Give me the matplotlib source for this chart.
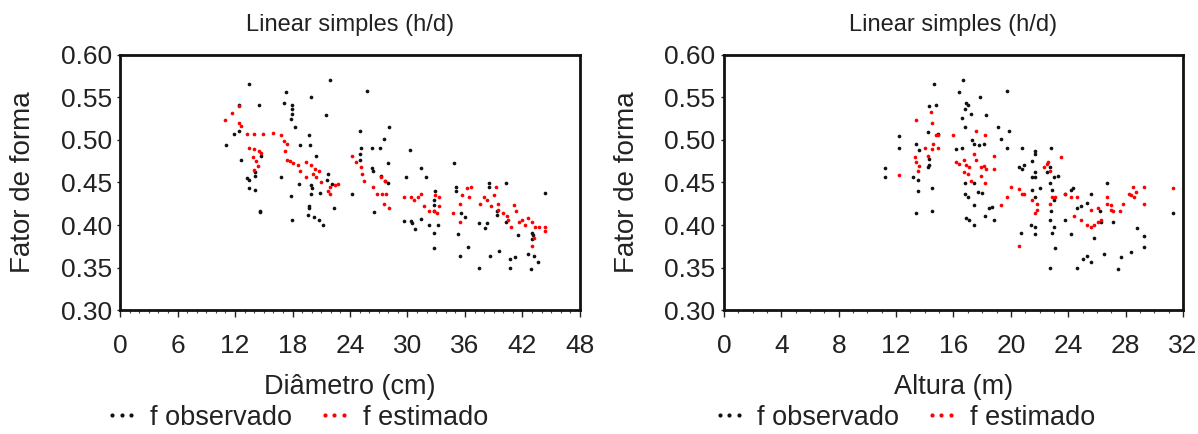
import matplotlib
matplotlib.use("Agg")
import matplotlib.pyplot as plt
from matplotlib.ticker import MultipleLocator, FormatStrFormatter
from matplotlib.lines import Line2D

plt.rcParams['font.family'] = ['Liberation Sans', 'DejaVu Sans']

# ---------------- Left panel: Diâmetro (cm) ----------------
d_obs = [13.46, 21.9, 25.8, 17.3, 19.9, 14.5, 12.45, 17.1, 17.9, 17.9, 17.9, 17.8,
         21.5, 28.1, 25.0, 27.6, 18.3, 12.4, 11.9, 11.1, 19.7, 18.8, 19.8, 25.1,
         26.3, 27.1, 30.3, 20.5, 14.7, 12.6, 25.0, 25.0, 28.0, 34.9, 31.4, 26.3,
         26.4, 16.8, 29.8, 31.9, 13.3, 13.5, 14.1, 14.1, 18.7, 27.2, 27.7, 28.0,
         21.7, 22.1, 21.6, 19.9, 20.0, 19.9, 13.5, 14.1, 17.8, 20.9, 24.2, 32.9,
         35.1, 35.1, 38.5, 38.5, 40.3, 44.4, 22.3, 14.6, 14.6, 19.7, 19.7, 26.5,
         32.8, 32.8, 32.8, 35.6, 36.0, 39.3, 39.3, 40.3, 17.9, 19.6, 20.2, 20.8,
         21.2, 29.6, 30.4, 30.5, 30.8, 31.4, 32.2, 33.2, 32.8, 32.8, 35.3, 37.5,
         38.1, 38.3, 41.5, 43.0, 43.0, 43.1, 35.5, 36.3, 38.6, 39.6, 37.5, 40.7,
         41.2, 40.7, 42.6, 43.2, 43.6, 42.9]
f_obs_d = [0.566, 0.571, 0.5575, 0.557, 0.551, 0.541, 0.541, 0.544, 0.541, 0.536, 0.530, 0.525,
           0.529, 0.515, 0.510, 0.5015, 0.515, 0.510, 0.5066, 0.4946, 0.506, 0.494, 0.494, 0.491,
           0.491, 0.491, 0.488, 0.481, 0.481, 0.477, 0.483, 0.476, 0.473, 0.4725, 0.467, 0.467,
           0.464, 0.457, 0.456, 0.457, 0.455, 0.453, 0.458, 0.462, 0.448, 0.458, 0.452, 0.449,
           0.460, 0.448, 0.453, 0.447, 0.443, 0.437, 0.444, 0.441, 0.434, 0.438, 0.436, 0.440,
           0.445, 0.440, 0.449, 0.445, 0.449, 0.438, 0.420, 0.4166, 0.415, 0.4227, 0.420, 0.415,
           0.429, 0.423, 0.417, 0.414, 0.409, 0.416, 0.412, 0.404, 0.406, 0.412, 0.409, 0.406,
           0.400, 0.405, 0.405, 0.402, 0.395, 0.407, 0.400, 0.400, 0.391, 0.373, 0.390, 0.402,
           0.397, 0.402, 0.388, 0.391, 0.384, 0.388, 0.364, 0.374, 0.364, 0.369, 0.350, 0.360,
           0.362, 0.349, 0.366, 0.363, 0.357, 0.348]

d_est = [11.0, 11.7, 12.4, 12.4, 12.6, 13.3, 14.0, 14.9, 13.5, 14.0, 14.5, 14.7,
         13.9, 14.2, 14.4, 14.0, 16.0, 16.8, 17.1, 17.2, 17.4, 17.4, 17.7, 18.1,
         18.6, 18.8, 19.4, 19.9, 20.3, 20.8, 20.1, 19.4, 20.5, 21.0, 21.9, 22.4,
         22.7, 21.7, 21.9, 24.2, 24.6, 25.2, 25.3, 25.5, 26.4, 26.8, 27.3, 27.8,
         27.6, 28.1, 27.2, 27.7, 29.6, 30.4, 30.7, 31.1, 31.4, 31.7, 32.2, 32.8,
         33.1, 33.3, 32.9, 33.3, 34.8, 35.5, 35.7, 36.2, 36.6, 36.4, 35.5, 37.6,
         38.0, 38.3, 38.7, 39.0, 39.2, 39.4, 39.4, 40.0, 40.4, 40.5, 41.1, 41.3,
         40.8, 41.6, 41.9, 42.3, 42.6, 43.0, 43.3, 43.0, 43.2, 43.7, 44.4, 44.4]
f_est_d = [0.523, 0.532, 0.540, 0.520, 0.516, 0.5066, 0.5066, 0.5066, 0.491, 0.489, 0.487, 0.485,
           0.480, 0.475, 0.469, 0.465, 0.508, 0.506, 0.499, 0.487, 0.495, 0.476, 0.475, 0.473,
           0.470, 0.464, 0.474, 0.470, 0.466, 0.464, 0.460, 0.456, 0.456, 0.451, 0.445, 0.447,
           0.448, 0.440, 0.436, 0.481, 0.474, 0.468, 0.460, 0.452, 0.445, 0.437, 0.436, 0.437,
           0.425, 0.420, 0.456, 0.452, 0.433, 0.433, 0.429, 0.433, 0.437, 0.422, 0.417, 0.416,
           0.414, 0.422, 0.435, 0.433, 0.414, 0.425, 0.435, 0.443, 0.445, 0.433, 0.404, 0.425,
           0.433, 0.429, 0.422, 0.435, 0.445, 0.425, 0.418, 0.414, 0.410, 0.406, 0.423, 0.417,
           0.398, 0.404, 0.406, 0.400, 0.408, 0.404, 0.398, 0.375, 0.385, 0.398, 0.398, 0.393]

# ---------------- Right panel: Altura (m) ----------------
h_obs = [14.65, 16.67, 16.37, 19.74, 17.84, 14.3, 14.8, 16.9, 17.0, 16.8, 17.2, 18.3,
         16.6, 16.8, 19.1, 19.3, 19.9, 12.2, 12.2, 13.4, 13.6, 14.2, 14.9, 14.3,
         14.3, 14.2, 16.2, 16.6, 17.3, 17.4, 17.8, 18.1, 19.7, 20.8, 21.7, 21.7,
         22.8, 11.2, 11.2, 13.2, 13.5, 13.5, 14.5, 13.4, 14.5, 16.8, 16.8, 17.0,
         17.4, 17.7, 18.0, 17.4, 16.9, 17.1, 17.4, 18.2, 18.5, 18.7, 18.8, 20.6,
         20.8, 20.9, 21.5, 21.7, 21.5, 21.7, 22.5, 22.7, 23.0, 23.3, 21.5, 21.7,
         22.0, 22.7, 22.9, 23.0, 22.8, 22.7, 23.0, 22.9, 23.1, 21.4, 21.7, 21.7,
         20.7, 23.8, 24.2, 23.8, 24.2, 24.6, 24.9, 25.3, 25.6, 24.3, 26.7, 26.2,
         26.3, 25.8, 27.1, 28.8, 29.3, 29.3, 31.3, 22.7, 24.6, 25.3, 25.0, 25.6,
         26.5, 27.5, 27.7, 28.4]
f_obs_h = [0.566, 0.571, 0.557, 0.5575, 0.551, 0.540, 0.541, 0.543, 0.541, 0.536, 0.531, 0.529,
           0.526, 0.515, 0.515, 0.5015, 0.510, 0.505, 0.490, 0.495, 0.488, 0.5097, 0.5073, 0.478,
           0.470, 0.468, 0.489, 0.491, 0.500, 0.495, 0.494, 0.495, 0.490, 0.491, 0.487, 0.483,
           0.491, 0.467, 0.456, 0.456, 0.453, 0.440, 0.444, 0.4146, 0.417, 0.449, 0.437, 0.433,
           0.449, 0.439, 0.438, 0.424, 0.408, 0.406, 0.400, 0.411, 0.420, 0.421, 0.406, 0.468,
           0.466, 0.470, 0.4757, 0.462, 0.456, 0.456, 0.462, 0.468, 0.456, 0.458, 0.441, 0.433,
           0.443, 0.449, 0.441, 0.429, 0.416, 0.406, 0.398, 0.391, 0.373, 0.400, 0.398, 0.389,
           0.391, 0.406, 0.389, 0.437, 0.441, 0.420, 0.422, 0.426, 0.437, 0.443, 0.449, 0.416,
           0.404, 0.385, 0.404, 0.3966, 0.387, 0.374, 0.414, 0.350, 0.349, 0.364, 0.360, 0.356,
           0.366, 0.348, 0.362, 0.368]

h_est = [12.2, 13.4, 13.4, 13.5, 13.6, 13.3, 14.0, 14.2, 14.4, 14.5, 14.8, 14.9,
         14.5, 14.6, 14.9, 16.0, 16.2, 16.4, 16.7, 16.9, 17.1, 16.7, 17.0, 17.2,
         17.4, 17.6, 17.9, 18.1, 18.3, 17.9, 18.2, 17.6, 18.2, 18.8, 18.8, 19.3,
         19.7, 20.0, 20.6, 20.8, 20.9, 20.6, 21.5, 21.7, 21.8, 21.8, 22.3, 22.5,
         22.7, 22.6, 22.9, 23.1, 23.5, 22.7, 23.8, 24.2, 24.6, 24.4, 24.9, 25.3,
         25.6, 25.8, 26.1, 26.3, 25.6, 26.1, 26.7, 27.0, 27.1, 26.7, 27.0, 27.6,
         27.8, 28.2, 28.4, 28.5, 28.7, 28.6, 29.3, 29.3, 31.3]
f_est_h = [0.459, 0.523, 0.474, 0.463, 0.469, 0.480, 0.490, 0.481, 0.533, 0.520, 0.506, 0.506,
           0.489, 0.495, 0.491, 0.506, 0.474, 0.472, 0.476, 0.470, 0.468, 0.462, 0.460, 0.452,
           0.483, 0.476, 0.468, 0.469, 0.466, 0.458, 0.449, 0.510, 0.506, 0.466, 0.481, 0.424,
           0.433, 0.445, 0.442, 0.436, 0.437, 0.375, 0.429, 0.414, 0.418, 0.425, 0.468, 0.472,
           0.464, 0.474, 0.433, 0.433, 0.480, 0.425, 0.437, 0.433, 0.433, 0.410, 0.406, 0.400,
           0.398, 0.400, 0.404, 0.406, 0.418, 0.420, 0.425, 0.418, 0.416, 0.433, 0.424, 0.416,
           0.425, 0.437, 0.435, 0.445, 0.439, 0.433, 0.445, 0.425, 0.444]

title = "Linear simples (h/d)"
ylabel = "Fator de forma"
xlabels = ["Diâmetro (cm)", "Altura (m)"]
legend_labels = ["f observado", "f estimado"]

fig = plt.figure(figsize=(11.98, 4.34), dpi=100)
ax1 = fig.add_axes([0.1002, 0.2857, 0.3839, 0.5876])
ax2 = fig.add_axes([0.6043, 0.2857, 0.3832, 0.5876])

TXT = '#222222'
panels = [
    (ax1, d_obs, f_obs_d, d_est, f_est_d, (0, 48), 6, 1, xlabels[0]),
    (ax2, h_obs, f_obs_h, h_est, f_est_h, (0, 32), 4, 1, xlabels[1]),
]
for ax, xo, yo, xe, ye, xlim, major, minor, xl in panels:
    ax.scatter(xo, yo, s=7, color='#111111', linewidths=0, zorder=3)
    ax.scatter(xe, ye, s=7, color='#ff0000', linewidths=0, zorder=3)
    ax.set_xlim(*xlim)
    ax.set_ylim(0.30, 0.60)
    ax.xaxis.set_major_locator(MultipleLocator(major))
    ax.xaxis.set_minor_locator(MultipleLocator(minor))
    ax.yaxis.set_major_locator(MultipleLocator(0.05))
    ax.yaxis.set_major_formatter(FormatStrFormatter('%.2f'))
    ax.tick_params(axis='x', which='major', direction='out', length=5,
                   width=1, labelsize=19, colors=TXT, pad=12)
    ax.tick_params(axis='x', which='minor', direction='out', length=2.5, width=0.8,
                   colors='#444444')
    ax.tick_params(axis='y', which='major', direction='out', length=2, width=1,
                   labelsize=19, colors=TXT, pad=4)
    for sp in ax.spines.values():
        sp.set_linewidth(2)
        sp.set_color('#111111')
    ax.set_title(title, fontsize=17, color=TXT, pad=17)
    ax.set_xlabel(xl, fontsize=19.5, color=TXT)
    ax.xaxis.set_label_coords(0.5, -0.252)
    ax.set_ylabel(ylabel, fontsize=20, color=TXT)
    ax.yaxis.set_label_coords(-0.183, 0.5)

handles = [Line2D([], [], linestyle='none', marker='o', markersize=3,
                  color='#111111', markeredgewidth=0),
           Line2D([], [], linestyle='none', marker='o', markersize=3,
                  color='#ff0000', markeredgewidth=0)]
for cx in (0.247, 0.754):
    fig.legend(handles, legend_labels, loc='center', bbox_to_anchor=(cx, 0.037),
               ncol=2, frameon=False, numpoints=3, handlelength=1.3,
               handletextpad=0.4, columnspacing=0.9, fontsize=19.5,
               labelcolor=TXT)

fig.savefig('out.png', dpi=100)
